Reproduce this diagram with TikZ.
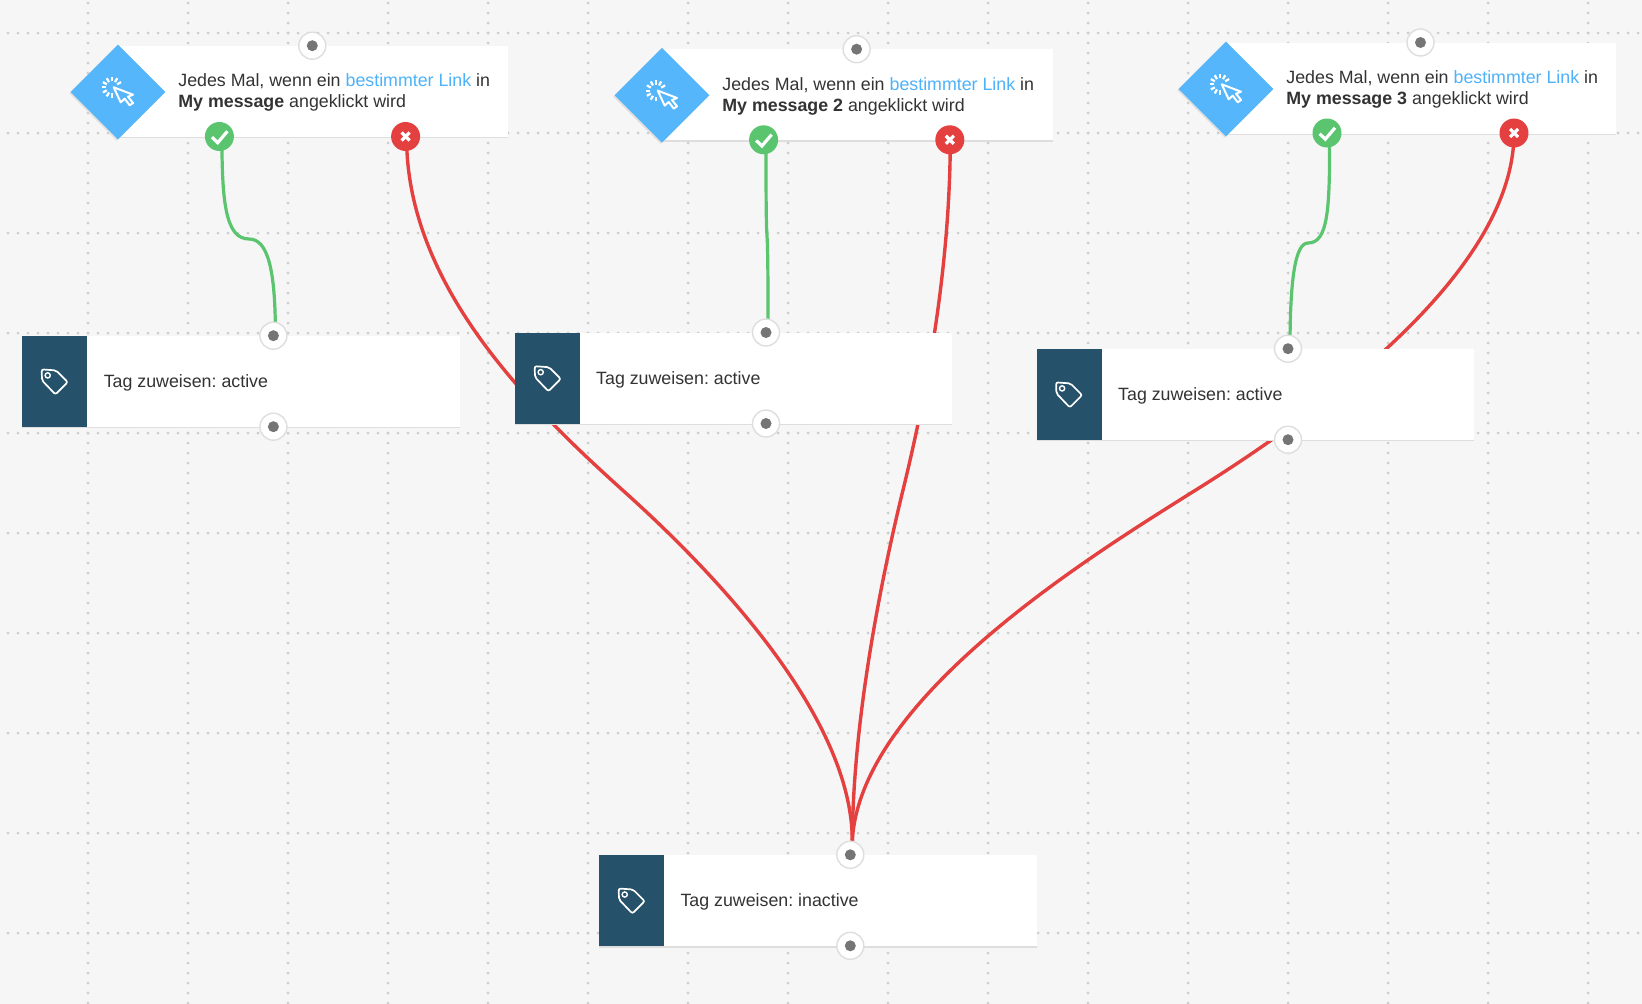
\documentclass[tikz,border=0pt]{standalone}
\usepackage{fontspec}
\setmainfont{Liberation Sans}
\usetikzlibrary{positioning,backgrounds,shadows,shapes.geometric}
\frenchspacing

\definecolor{canvasgray}{HTML}{F6F6F6}
\definecolor{griddot}{HTML}{CCCCCC}
\definecolor{edgegray}{HTML}{DEDEDE}
\definecolor{portdot}{HTML}{757575}
\definecolor{triggerblue}{HTML}{56B6FB}
\definecolor{linkblue}{HTML}{4DB2F9}
\definecolor{tagteal}{HTML}{25516A}
\definecolor{textgray}{HTML}{333333}
\definecolor{yesgreen}{HTML}{5AC46F}
\definecolor{nored}{HTML}{E4403F}

\tikzset{
    check icon/.pic={\draw[white,line width=3.2pt] (-7.4,0.7) -- (-1.7,6.2) -- (8,-5.2);},
    cross icon/.pic={\draw[white,line width=3.2pt] (-4,-4) -- (4,4) (-4,4) -- (4,-4);},
    tag icon/.pic={
        \draw[white,line width=1.7pt,rounded corners=2pt] (-13,-12) -- (1.3,-11) -- (13,0.7) -- (0.7,13) -- (-12.7,-1) -- cycle;
        \draw[white,line width=1.4pt] (-7,-6) circle (2.6pt);
    },
    click icon/.pic={
        \draw[white,line width=2pt,line join=round] (-4.3,-4.7) -- (15,2.7) -- (10,4.7) -- (15,11) -- (11.7,13.3) -- (6.7,6.7) -- (2.7,10.3) -- cycle;
        \foreach \a in {30,60,...,270}
            \draw[white,line width=2.2pt,shift={(-6,-4.7)}] (\a:6pt) -- (\a:10.5pt);
    },
}

\begin{document}
\begin{tikzpicture}[x=1pt,y=-1pt,font=\fontsize{17.8}{21}\selectfont,text=textgray]
    \tikzstyle{grid dots}=[griddot,line width=3pt,line cap=round,dash pattern=on 0pt off 10pt]
    \tikzstyle{flow box}=[rectangle,fill=white,anchor=north west,inner sep=0,minimum height=91pt,general shadow={shadow yshift=-1.5pt,fill=edgegray}]
    \tikzstyle{trigger node}=[diamond,fill=triggerblue,inner sep=0,minimum width=95pt,minimum height=95pt,general shadow={shadow xshift=-1.2pt,shadow yshift=-1.2pt,fill=edgegray}]
    \tikzstyle{tag side}=[rectangle,fill=tagteal,anchor=north west,inner sep=0,minimum width=65pt,minimum height=91pt]
    \tikzstyle{port node}=[circle,draw=edgegray,fill=white,line width=1.4pt,inner sep=0,minimum size=27pt,path picture={\fill[portdot] (path picture bounding box.center) circle (5.5pt);}]
    \tikzstyle{yes node}=[circle,fill=yesgreen,inner sep=0,minimum size=29pt]
    \tikzstyle{no node}=[circle,fill=nored,inner sep=0,minimum size=29pt]
    \tikzstyle{yes line}=[yesgreen,line width=3.2pt]
    \tikzstyle{no line}=[nored,line width=3.4pt]
    \tikzstyle{flow text}=[inner sep=0,align=left]
    \tikzstyle{tag text}=[inner sep=0,anchor=base west]

    \useasboundingbox (0,0) rectangle (1642,1004);

    % first trigger
    \node(box1)[flow box,minimum width=390pt] at (118,45.7){};
    \node(trigger1)[trigger node] at (118,92){};
    \node(text1)[flow text,right=12.5pt of trigger1.east,yshift=-0.5pt]{Jedes Mal, wenn ein \textcolor{linkblue}{bestimmter Link} in\\\textbf{My message} angeklickt wird};
    \node(in1)[port node] at (312.3,45.7){};
    \node(yes1)[yes node] at (219.4,136.5){};
    \node(no1)[no node] at (405.6,136.5){};

    % second trigger
    \node(box2)[flow box,minimum width=391pt] at (662,49.2){};
    \node(trigger2)[trigger node] at (662,95.3){};
    \node(text2)[flow text,right=12.5pt of trigger2.east,yshift=-1pt]{Jedes Mal, wenn ein \textcolor{linkblue}{bestimmter Link} in\\\textbf{My message 2} angeklickt wird};
    \node(in2)[port node] at (856.6,49.2){};
    \node(yes2)[yes node] at (763.6,139.8){};
    \node(no2)[no node] at (949.8,139.8){};

    % third trigger
    \node(box3)[flow box,minimum width=390pt] at (1226,42.5){};
    \node(trigger3)[trigger node] at (1226,89){};
    \node(text3)[flow text,right=12.5pt of trigger3.east,yshift=-0.5pt]{Jedes Mal, wenn ein \textcolor{linkblue}{bestimmter Link} in\\\textbf{My message 3} angeklickt wird};
    \node(in3)[port node] at (1420.5,42.5){};
    \node(yes3)[yes node] at (1327,133){};
    \node(no3)[no node] at (1514,133){};

    \pic at (trigger1) {click icon};
    \pic at (trigger2) {click icon};
    \pic at (trigger3) {click icon};
    \pic at (yes1) {check icon};
    \pic at (yes2) {check icon};
    \pic at (yes3) {check icon};
    \pic at (no1) {cross icon};
    \pic at (no2) {cross icon};
    \pic at (no3) {cross icon};

    % tag actions
    \node(tag1)[flow box,minimum width=437.5pt] at (22,335.7){};
    \node(side1)[tag side] at (22,335.7){};
    \node(label1)[tag text] at (103.6,387.6){Tag zuweisen: active};
    \node(tag1in)[port node] at (273.4,335.7){};
    \node(tag1out)[port node] at (273.4,426.7){};

    \node(tag2)[flow box,minimum width=437pt] at (515,332.5){};
    \node(side2)[tag side] at (515,332.5){};
    \node(label2)[tag text] at (596,384){Tag zuweisen: active};
    \node(tag2in)[port node] at (766,332.5){};
    \node(tag2out)[port node] at (766,423.5){};

    \node(tag3)[flow box,minimum width=437.5pt] at (1036.4,348.7){};
    \node(side3)[tag side] at (1036.4,348.7){};
    \node(label3)[tag text] at (1118,400.5){Tag zuweisen: active};
    \node(tag3in)[port node] at (1288,348.7){};
    \node(tag3out)[port node] at (1288,439.7){};

    \node(tag4)[flow box,minimum width=437.5pt] at (599,854.8){};
    \node(side4)[tag side] at (599,854.8){};
    \node(label4)[tag text] at (680.3,906.6){Tag zuweisen: inactive};
    \node(tag4in)[port node] at (850.3,854.8){};
    \node(tag4out)[port node] at (850.3,945.8){};

    \pic at (side1) {tag icon};
    \pic at (side2) {tag icon};
    \pic at (side3) {tag icon};
    \pic at (side4) {tag icon};

    \begin{pgfonlayer}{background}
        \fill[canvasgray] (0,0) rectangle (1642,1004);
        \foreach \gx in {88,188,...,1588}
            \draw[grid dots] (\gx,3) -- (\gx,1004);
        \foreach \gy in {33,133,...,933}
            \draw[grid dots] (8,\gy) -- (1642,\gy);

        \draw[yes line] ([xshift=2.5pt]yes1.center) .. controls (222,200) and (225,239) .. (249,239) .. controls (268,239) and (275.5,270) .. ([xshift=2pt]tag1in.center);
        \draw[yes line] ([xshift=2.5pt]yes2.center) .. controls (766,190) and (766,220) .. (767,236) .. controls (768,250) and (768,290) .. ([xshift=2pt]tag2in.center);
        \draw[yes line] ([xshift=2.5pt]yes3.center) .. controls (1330,210) and (1328,243) .. (1308,243) .. controls (1295,243) and (1290,280) .. ([xshift=2pt]tag3in.center);

        \draw[no line] ([xshift=1pt]no1.center) .. controls (406,290) and (538,414) .. (628,495) .. controls (733,590) and (852,725) .. ([xshift=2pt]tag4in.north);
        \draw[no line] ([xshift=0.5pt]no2.center) .. controls (950,270) and (926,396) .. (903,490) .. controls (881,580) and (853,720) .. ([xshift=2pt]tag4in.north);
        \draw[no line] (no3.center) .. controls (1514,260) and (1352,393) .. (1191,493) .. controls (1084,560) and (860,700) .. ([xshift=2pt]tag4in.north);
    \end{pgfonlayer}
\end{tikzpicture}
\end{document}
